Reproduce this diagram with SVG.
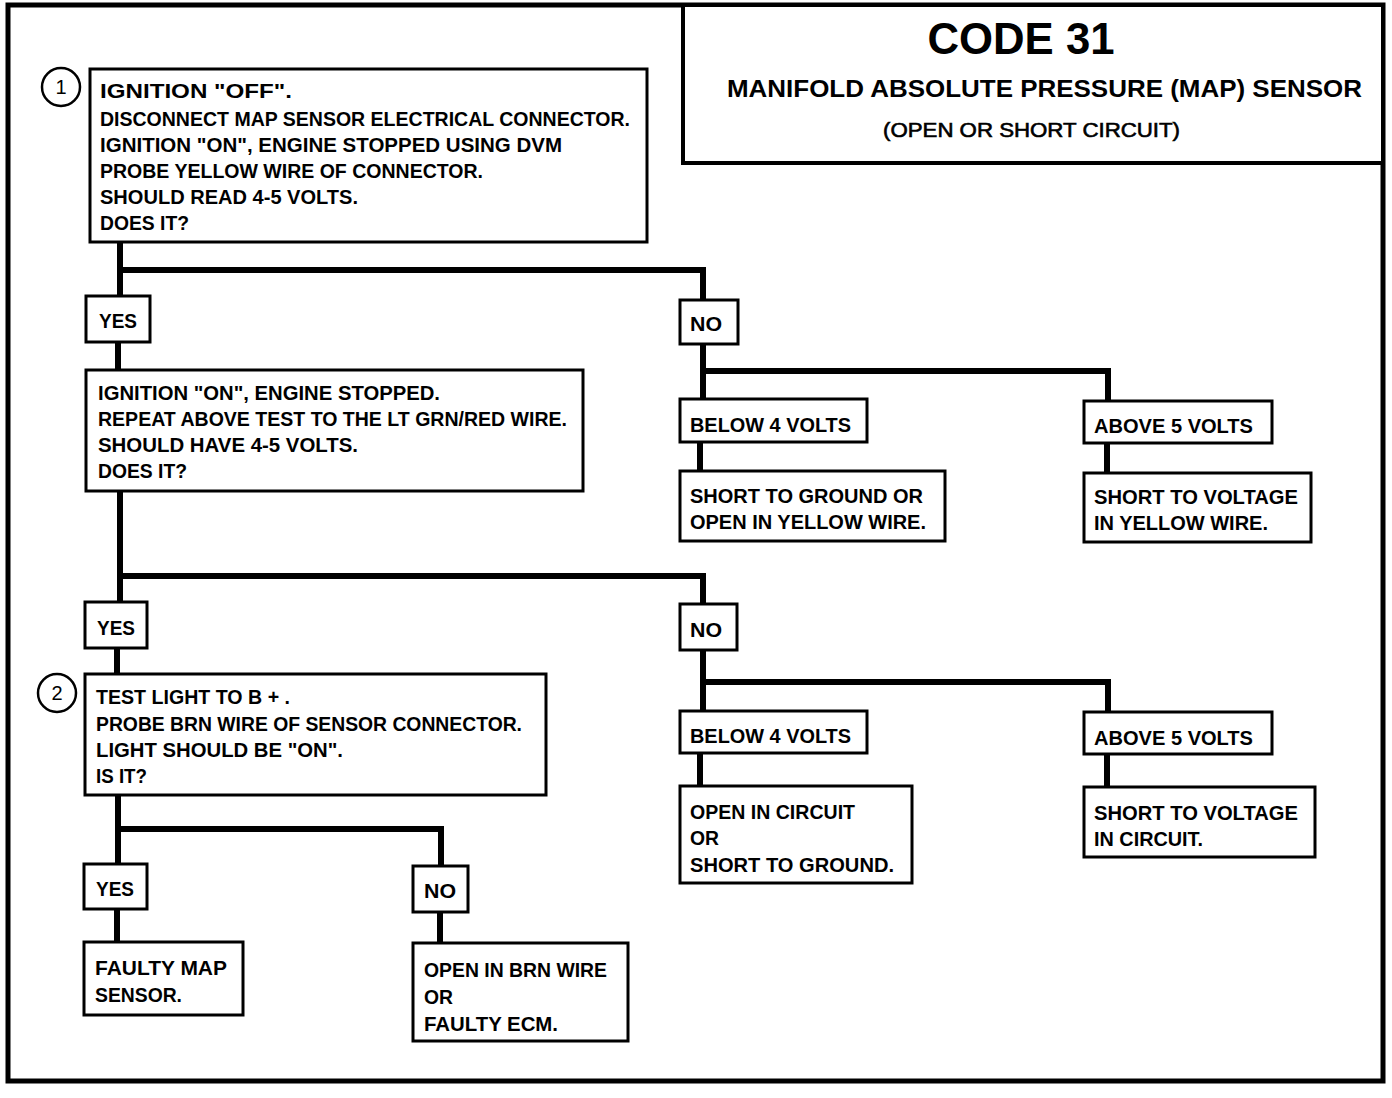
<svg xmlns="http://www.w3.org/2000/svg" width="1392" height="1098" viewBox="0 0 1392 1098">
<style>
.b{fill:#fff;stroke:#000;stroke-width:3}
.t{font-family:"Liberation Sans",Arial,sans-serif;font-weight:bold;font-size:20px;fill:#000}
.c{fill:none;stroke:#000;stroke-width:6;stroke-linecap:square}
.ci{fill:#fff;stroke:#000;stroke-width:2.5}
.n{font-family:"Liberation Sans",Arial,sans-serif;font-weight:normal;font-size:20px;fill:#000}
</style>
<rect x="0" y="0" width="1392" height="1098" fill="#fff"/>
<rect x="8" y="5" width="1375" height="1076" fill="none" stroke="#000" stroke-width="5"/>
<g id="connectors">
<path class="c" d="M120 243V296M120 270H703V300M118 343V370"/>
<path class="c" d="M703 345V399M703 371H1108V401M700 443V471M1107 444V473"/>
<path class="c" d="M120 492V602M120 576H703V604M117 649V674"/>
<path class="c" d="M703 651V711M703 682H1108V712M700 754V786M1107 755V787"/>
<path class="c" d="M118 796V864M118 829H441V866M117 910V942M440 913V943"/>
</g>
<g id="title">
<rect x="683" y="5" width="700" height="158" fill="#fff" stroke="#000" stroke-width="4"/>
<text class="t" x="1021" y="54" style="font-size:44px" text-anchor="middle" textLength="187" lengthAdjust="spacingAndGlyphs">CODE 31</text>
<text class="t" x="727" y="97" style="font-size:24px" textLength="635" lengthAdjust="spacingAndGlyphs">MANIFOLD ABSOLUTE  PRESSURE (MAP) SENSOR</text>
<text class="t" x="883" y="137" style="font-size:20px;font-weight:normal;stroke:#000;stroke-width:0.6" textLength="297" lengthAdjust="spacingAndGlyphs">(OPEN OR SHORT CIRCUIT)</text>
</g>
<g id="step1">
<circle class="ci" cx="61" cy="87" r="19"/>
<text class="n" x="61" y="94" text-anchor="middle">1</text>
</g>
<g id="box1">
<rect class="b" x="90" y="69" width="557" height="173"/>
<text class="t" x="100" y="98" textLength="192" lengthAdjust="spacingAndGlyphs">IGNITION "OFF".</text>
<text class="t" x="100" y="126" textLength="530" lengthAdjust="spacingAndGlyphs">DISCONNECT MAP SENSOR ELECTRICAL CONNECTOR.</text>
<text class="t" x="100" y="152" textLength="462" lengthAdjust="spacingAndGlyphs">IGNITION "ON", ENGINE STOPPED USING DVM</text>
<text class="t" x="100" y="178" textLength="383" lengthAdjust="spacingAndGlyphs">PROBE YELLOW WIRE OF CONNECTOR.</text>
<text class="t" x="100" y="204" textLength="258" lengthAdjust="spacingAndGlyphs">SHOULD READ 4-5 VOLTS.</text>
<text class="t" x="100" y="230" textLength="89" lengthAdjust="spacingAndGlyphs">DOES IT?</text>
</g>
<g id="yes1">
<rect class="b" x="86" y="296" width="64" height="46"/>
<text class="t" x="99" y="328" textLength="38" lengthAdjust="spacingAndGlyphs">YES</text>
</g>
<g id="no1">
<rect class="b" x="680" y="300" width="58" height="44"/>
<text class="t" x="690" y="331" textLength="32" lengthAdjust="spacingAndGlyphs">NO</text>
</g>
<g id="box2">
<rect class="b" x="86" y="370" width="497" height="121"/>
<text class="t" x="98" y="400" textLength="342" lengthAdjust="spacingAndGlyphs">IGNITION "ON", ENGINE STOPPED.</text>
<text class="t" x="98" y="426" textLength="469" lengthAdjust="spacingAndGlyphs">REPEAT ABOVE TEST TO THE LT GRN/RED WIRE.</text>
<text class="t" x="98" y="452" textLength="260" lengthAdjust="spacingAndGlyphs">SHOULD HAVE 4-5 VOLTS.</text>
<text class="t" x="98" y="478" textLength="89" lengthAdjust="spacingAndGlyphs">DOES IT?</text>
</g>
<g id="below1">
<rect class="b" x="680" y="399" width="187" height="43"/>
<text class="t" x="690" y="432" textLength="161" lengthAdjust="spacingAndGlyphs">BELOW 4 VOLTS</text>
</g>
<g id="above1">
<rect class="b" x="1084" y="401" width="188" height="42"/>
<text class="t" x="1094" y="433" textLength="159" lengthAdjust="spacingAndGlyphs">ABOVE 5 VOLTS</text>
</g>
<g id="result1">
<rect class="b" x="680" y="471" width="265" height="70"/>
<text class="t" x="690" y="503" textLength="233" lengthAdjust="spacingAndGlyphs">SHORT TO GROUND OR</text>
<text class="t" x="690" y="529" textLength="236" lengthAdjust="spacingAndGlyphs">OPEN IN YELLOW WIRE.</text>
</g>
<g id="result2">
<rect class="b" x="1084" y="473" width="227" height="69"/>
<text class="t" x="1094" y="504" textLength="204" lengthAdjust="spacingAndGlyphs">SHORT TO VOLTAGE</text>
<text class="t" x="1094" y="530" textLength="174" lengthAdjust="spacingAndGlyphs">IN YELLOW WIRE.</text>
</g>
<g id="yes2">
<rect class="b" x="85" y="602" width="62" height="46"/>
<text class="t" x="97" y="635" textLength="38" lengthAdjust="spacingAndGlyphs">YES</text>
</g>
<g id="no2">
<rect class="b" x="680" y="604" width="57" height="46"/>
<text class="t" x="690" y="637" textLength="32" lengthAdjust="spacingAndGlyphs">NO</text>
</g>
<g id="step2">
<circle class="ci" cx="57" cy="693" r="19"/>
<text class="n" x="57" y="700" text-anchor="middle">2</text>
</g>
<g id="box3">
<rect class="b" x="85" y="674" width="461" height="121"/>
<text class="t" x="96" y="704" textLength="194" lengthAdjust="spacingAndGlyphs">TEST LIGHT TO B + .</text>
<text class="t" x="96" y="731" textLength="426" lengthAdjust="spacingAndGlyphs">PROBE BRN WIRE OF SENSOR CONNECTOR.</text>
<text class="t" x="96" y="757" textLength="247" lengthAdjust="spacingAndGlyphs">LIGHT SHOULD BE "ON".</text>
<text class="t" x="96" y="783" textLength="51" lengthAdjust="spacingAndGlyphs">IS IT?</text>
</g>
<g id="below2">
<rect class="b" x="680" y="711" width="187" height="42"/>
<text class="t" x="690" y="743" textLength="161" lengthAdjust="spacingAndGlyphs">BELOW 4 VOLTS</text>
</g>
<g id="above2">
<rect class="b" x="1084" y="712" width="188" height="42"/>
<text class="t" x="1094" y="745" textLength="159" lengthAdjust="spacingAndGlyphs">ABOVE 5 VOLTS</text>
</g>
<g id="result3">
<rect class="b" x="680" y="786" width="232" height="97"/>
<text class="t" x="690" y="819" textLength="165" lengthAdjust="spacingAndGlyphs">OPEN IN CIRCUIT</text>
<text class="t" x="690" y="845" textLength="29" lengthAdjust="spacingAndGlyphs">OR</text>
<text class="t" x="690" y="872" textLength="204" lengthAdjust="spacingAndGlyphs">SHORT TO GROUND.</text>
</g>
<g id="result4">
<rect class="b" x="1084" y="787" width="231" height="70"/>
<text class="t" x="1094" y="820" textLength="204" lengthAdjust="spacingAndGlyphs">SHORT TO VOLTAGE</text>
<text class="t" x="1094" y="846" textLength="109" lengthAdjust="spacingAndGlyphs">IN CIRCUIT.</text>
</g>
<g id="yes3">
<rect class="b" x="84" y="864" width="63" height="45"/>
<text class="t" x="96" y="896" textLength="38" lengthAdjust="spacingAndGlyphs">YES</text>
</g>
<g id="no3">
<rect class="b" x="413" y="866" width="55" height="46"/>
<text class="t" x="424" y="898" textLength="32" lengthAdjust="spacingAndGlyphs">NO</text>
</g>
<g id="result5">
<rect class="b" x="84" y="942" width="159" height="73"/>
<text class="t" x="95" y="975" textLength="132" lengthAdjust="spacingAndGlyphs">FAULTY MAP</text>
<text class="t" x="95" y="1002" textLength="87" lengthAdjust="spacingAndGlyphs">SENSOR.</text>
</g>
<g id="result6">
<rect class="b" x="413" y="943" width="215" height="98"/>
<text class="t" x="424" y="977" textLength="183" lengthAdjust="spacingAndGlyphs">OPEN IN BRN WIRE</text>
<text class="t" x="424" y="1004" textLength="29" lengthAdjust="spacingAndGlyphs">OR</text>
<text class="t" x="424" y="1031" textLength="134" lengthAdjust="spacingAndGlyphs">FAULTY ECM.</text>
</g>
</svg>
